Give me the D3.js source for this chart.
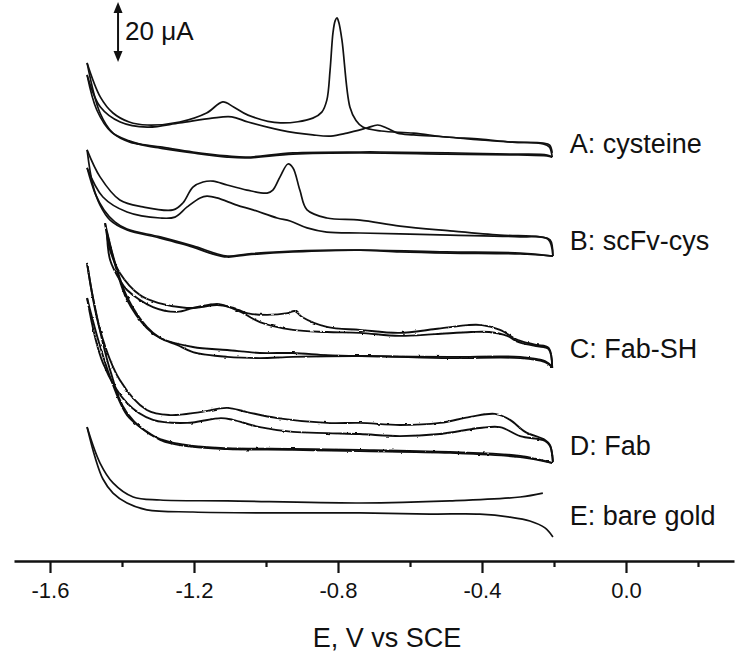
<!DOCTYPE html>
<html><head><meta charset="utf-8">
<script src="https://cdn.jsdelivr.net/npm/d3@7"></script>
<style>
body{margin:0;background:#fff}
svg{display:block}
text{font-family:"Liberation Sans", Arial, Helvetica, sans-serif; fill:#111}
</style>
</head><body>
<svg id="chart" width="750" height="662"></svg>
<script>
// ---- Axis ticks ----
const xTicks = [-1.6, -1.2, -0.8, -0.4, 0.0];
const xMinorTicks = [-1.4, -1.0, -0.6, -0.2, 0.2];
const xTitle = "E, V vs SCE";

// ---- Sample labels (text, anchor current on the stacked scale) ----
const sampleLabels = ["A: cysteine", "B: scFv-cys", "C: Fab-SH", "D: Fab", "E: bare gold"];
const labelCurrents = [135.7, 103.3, 67.3, 35, 11.7];
const noisySamples = [false, false, true, true, false];

// ---- Scale bar (20 µA) ----
const scaleBarText = "20 \u03bcA";
const scaleBarE = -1.411;
const scaleBarRange = [166, 186];

// ---- Voltammograms: [E (V vs SCE), current (µA, stacked offset)] ----
// A: cysteine
const A_up1 = [[-1.497,165.7],[-1.46,154.3],[-1.425,149],[-1.38,146],[-1.33,145],[-1.24,146],[-1.165,149],[-1.12,152.7],[-1.09,151],[-1.05,148.3],[-0.96,145.7],[-0.87,147.3],[-0.845,149.3],[-0.831,153.3],[-0.822,163.3],[-0.814,175.7],[-0.808,179.7],[-0.803,180.7],[-0.798,179.3],[-0.789,173.3],[-0.767,151],[-0.75,146.5],[-0.731,144.3],[-0.68,143],[-0.59,142.3],[-0.50,141],[-0.405,140.3],[-0.315,139.3],[-0.23,139],[-0.212,138.3],[-0.205,135.7]];
const A_up2 = [[-1.497,161.7],[-1.46,151],[-1.405,146],[-1.33,144.3],[-1.24,145.7],[-1.15,147.3],[-1.095,147.7],[-1.05,146],[-0.96,143.3],[-0.87,141.7],[-0.82,141.3],[-0.775,142.3],[-0.72,144],[-0.69,145],[-0.665,144],[-0.635,142.3],[-0.59,141.7],[-0.50,141],[-0.405,140],[-0.315,139.3],[-0.23,138.7],[-0.213,137.7],[-0.205,134.3]];
const A_base1 = [[-1.497,165.7],[-1.461,149],[-1.425,142.3],[-1.378,139.3],[-1.331,138.3],[-1.294,137.7],[-1.203,136],[-1.108,134.7],[-1.053,134.3],[-0.925,135.7],[-0.739,136],[-0.683,136],[-0.497,135.7],[-0.314,135.3],[-0.219,135],[-0.205,134.3]];
const A_base2 = [[-1.497,161.7],[-1.47,150],[-1.43,142.7],[-1.38,139.7],[-1.331,138],[-1.294,137.3],[-1.203,135.7],[-1.108,134.3],[-1.053,134],[-0.925,135.3],[-0.739,135.7],[-0.5,135.3],[-0.3,135],[-0.22,134.7],[-0.205,134.3]];
// B: scFv-cys
const B_up1 = [[-1.497,136.7],[-1.461,127.7],[-1.406,120],[-1.342,117.7],[-1.258,116.7],[-1.231,119],[-1.203,124.3],[-1.175,126],[-1.147,126.3],[-1.108,125],[-1.053,123.3],[-0.997,122.3],[-0.981,123.3],[-0.961,127.7],[-0.939,132],[-0.925,130.7],[-0.906,123.3],[-0.886,116.7],[-0.831,114],[-0.739,113.3],[-0.628,111.3],[-0.489,109.7],[-0.35,108.3],[-0.239,107.7],[-0.211,106.7],[-0.203,101.3]];
const B_up2 = [[-1.497,130.7],[-1.453,121],[-1.386,116],[-1.294,114],[-1.253,114.3],[-1.219,117.7],[-1.183,120.7],[-1.164,121.3],[-1.136,120.7],[-1.081,118.3],[-1.036,116.7],[-0.969,114],[-0.933,113],[-0.886,110.7],[-0.831,109.3],[-0.739,109],[-0.628,108.7],[-0.489,108.3],[-0.294,107.7],[-0.217,107],[-0.203,101.3]];
const B_base1 = [[-1.497,136.7],[-1.481,125],[-1.461,118.3],[-1.433,113.3],[-1.386,110],[-1.294,107.3],[-1.203,104.3],[-1.156,102.3],[-1.108,101],[-1.053,101.7],[-0.925,102.7],[-0.739,103.3],[-0.628,102.7],[-0.489,102.3],[-0.294,102],[-0.203,101.3]];
const B_base2 = [[-1.497,130.7],[-1.475,122.3],[-1.45,116.7],[-1.42,112.7],[-1.386,110.3],[-1.294,107.7],[-1.203,104.7],[-1.108,101.3],[-1.053,102],[-0.925,103],[-0.739,103.3],[-0.5,102.7],[-0.294,102.3],[-0.203,101.3]];
// C: Fab-SH
const C_up1 = [[-1.447,112.3],[-1.433,103.3],[-1.406,95.7],[-1.35,88.3],[-1.3,85.7],[-1.22,84],[-1.18,84.3],[-1.136,85],[-1.09,84],[-1.053,82.3],[-0.997,81.7],[-0.94,82.3],[-0.92,83],[-0.9,81],[-0.831,77.7],[-0.739,76.7],[-0.63,75.7],[-0.53,77],[-0.44,78.3],[-0.4,78.3],[-0.35,76.7],[-0.3,73.3],[-0.25,71.7],[-0.215,70.7],[-0.205,64]];
const C_up2 = [[-1.442,109.3],[-1.433,100],[-1.406,93.3],[-1.386,90],[-1.314,84.3],[-1.247,82.7],[-1.203,84],[-1.16,85],[-1.13,85.3],[-1.07,82.7],[-1.017,79.3],[-0.925,76.7],[-0.831,76],[-0.739,75.7],[-0.63,74.7],[-0.53,75.3],[-0.43,76],[-0.38,76],[-0.33,74.7],[-0.3,72.7],[-0.25,71.3],[-0.215,70.3],[-0.205,64]];
const C_base1 = [[-1.447,112.3],[-1.42,99.3],[-1.386,87.7],[-1.331,77.7],[-1.294,74],[-1.247,71.7],[-1.203,69.3],[-1.108,67.7],[-1.017,67.3],[-0.925,67.7],[-0.739,68],[-0.49,67.3],[-0.294,67.3],[-0.225,66],[-0.205,64.3]];
const C_base2 = [[-1.442,109.3],[-1.415,96.7],[-1.386,86.7],[-1.331,77.3],[-1.294,74],[-1.203,71],[-1.108,70],[-1.017,69],[-0.925,69],[-0.831,68.3],[-0.739,68],[-0.49,67.7],[-0.294,67.7],[-0.225,66.3],[-0.205,64.3]];
// D: Fab
const D_up1 = [[-1.497,99],[-1.461,76.7],[-1.406,60],[-1.331,50],[-1.267,48.3],[-1.183,49.3],[-1.108,50.7],[-1.053,49.3],[-0.969,47.3],[-0.831,45.7],[-0.739,45.7],[-0.628,45],[-0.517,45.7],[-0.433,47.7],[-0.364,48.7],[-0.322,46.7],[-0.28,42.7],[-0.225,40],[-0.211,38.3],[-0.203,32.7]];
const D_up2 = [[-1.497,87.3],[-1.453,65.7],[-1.386,52.3],[-1.314,46.7],[-1.219,45.7],[-1.125,47.3],[-1.092,46.7],[-1.017,44.3],[-0.925,42.7],[-0.831,42.3],[-0.739,42],[-0.628,41.3],[-0.517,42],[-0.406,44],[-0.35,44.3],[-0.294,41.3],[-0.225,39.7],[-0.211,38],[-0.203,32.7]];
const D_base1 = [[-1.497,99],[-1.481,87.7],[-1.433,63.3],[-1.386,49],[-1.294,40],[-1.203,37.7],[-1.108,37],[-0.925,36.7],[-0.739,36.3],[-0.489,35.7],[-0.294,34.3],[-0.203,32.3]];
const D_base2 = [[-1.497,87.3],[-1.47,75],[-1.433,61],[-1.386,48.3],[-1.33,42.7],[-1.294,40.3],[-1.203,38],[-1.108,37.3],[-0.925,37],[-0.739,36.7],[-0.489,36],[-0.294,34.7],[-0.203,32.3]];
// E: bare gold
const E_up = [[-1.497,44.3],[-1.461,32.3],[-1.425,25.7],[-1.369,21],[-1.294,20],[-1.108,19.7],[-0.739,19],[-0.489,19.7],[-0.294,21],[-0.231,22.3]];
const E_low = [[-1.497,44.3],[-1.475,34.3],[-1.453,27],[-1.425,22.3],[-1.386,19],[-1.331,16.7],[-1.203,16],[-1.017,15.7],[-0.739,15.7],[-0.544,15.3],[-0.406,15.3],[-0.322,14.3],[-0.267,13],[-0.225,10.7],[-0.203,7.7]];

const sampleTraces = [
  [A_up1, A_up2, A_base1, A_base2],
  [B_up1, B_up2, B_base1, B_base2],
  [C_up1, C_up2, C_base1, C_base2],
  [D_up1, D_up2, D_base1, D_base2],
  [E_up, E_low]
];

// ---- Drawing ----
const svg = d3.select("#chart");
const axisY = 561;
const x = d3.scaleLinear().domain([-1.7, 0.3]).range([14, 734]);
const y = d3.scaleLinear().domain([0, 560/3]).range([560, 0]);

// subtle wavy rendering style for the noisy Fab recordings
const defs = svg.append("defs");
const f = defs.append("filter").attr("id", "jag").attr("x", "-5%").attr("y", "-5%").attr("width", "110%").attr("height", "110%");
f.append("feTurbulence").attr("type", "fractalNoise").attr("baseFrequency", "0.22 0.3").attr("numOctaves", 1).attr("seed", 5).attr("result", "t");
f.append("feDisplacementMap").attr("in", "SourceGraphic").attr("in2", "t").attr("scale", 2.4)
  .attr("xChannelSelector", "R").attr("yChannelSelector", "G");

const line = d3.line().x(d => x(d[0])).y(d => y(d[1])).curve(d3.curveCatmullRom.alpha(0.5));

const groups = svg.append("g").selectAll("g").data(sampleTraces).join("g")
  .attr("filter", (d, i) => noisySamples[i] ? "url(#jag)" : null);
groups.selectAll("path").data(d => d).join("path")
  .attr("d", line)
  .attr("fill", "none")
  .attr("stroke", "#111")
  .attr("stroke-width", function() { return noisySamples[sampleTraces.indexOf(d3.select(this.parentNode).datum())] ? 1.9 : 1.7; })
  .attr("stroke-linejoin", "round");

// Major axis
const gx = svg.append("g").attr("transform", `translate(0,${axisY})`)
  .call(d3.axisBottom(x).tickValues(xTicks).tickSize(12).tickSizeOuter(0).tickPadding(9)
        .tickFormat(d => d.toFixed(1)));
gx.select(".domain").attr("stroke", "#111").attr("stroke-width", 2.6);
gx.selectAll(".tick line").attr("stroke", "#111").attr("stroke-width", 2.2);
gx.selectAll(".tick text").attr("font-size", 22).attr("fill", "#111")
  .style("font-family", '"Liberation Sans", Arial, sans-serif');

// Minor ticks
const gm = svg.append("g").attr("transform", `translate(0,${axisY})`)
  .call(d3.axisBottom(x).tickValues(xMinorTicks).tickSize(6).tickSizeOuter(0).tickFormat(""));
gm.select(".domain").remove();
gm.selectAll(".tick line").attr("stroke", "#111").attr("stroke-width", 2.2);

// Axis title
svg.append("text").attr("x", (x(-1.6) + x(0.3)) / 2 - 5).attr("y", 647)
  .attr("text-anchor", "middle").attr("font-size", 27).text(xTitle);

// Sample labels
svg.append("g").selectAll("text").data(sampleLabels).join("text")
  .attr("x", x(-0.156))
  .attr("y", (d, i) => y(labelCurrents[i]))
  .attr("font-size", 27)
  .text(d => d);

// Scale bar with double arrow
const sbx = x(scaleBarE), sy0 = y(scaleBarRange[1]), sy1 = y(scaleBarRange[0]);
svg.append("line").attr("x1", sbx).attr("x2", sbx).attr("y1", sy0 + 4).attr("y2", sy1 - 4)
  .attr("stroke", "#111").attr("stroke-width", 2);
svg.append("path").attr("d", `M${sbx},${sy0} L${sbx-4.5},${sy0+11} L${sbx+4.5},${sy0+11} Z`).attr("fill", "#111");
svg.append("path").attr("d", `M${sbx},${sy1} L${sbx-4.5},${sy1-11} L${sbx+4.5},${sy1-11} Z`).attr("fill", "#111");
svg.append("text").attr("x", sbx + 7).attr("y", 40).attr("font-size", 26).text(scaleBarText);
</script>
</body></html>
